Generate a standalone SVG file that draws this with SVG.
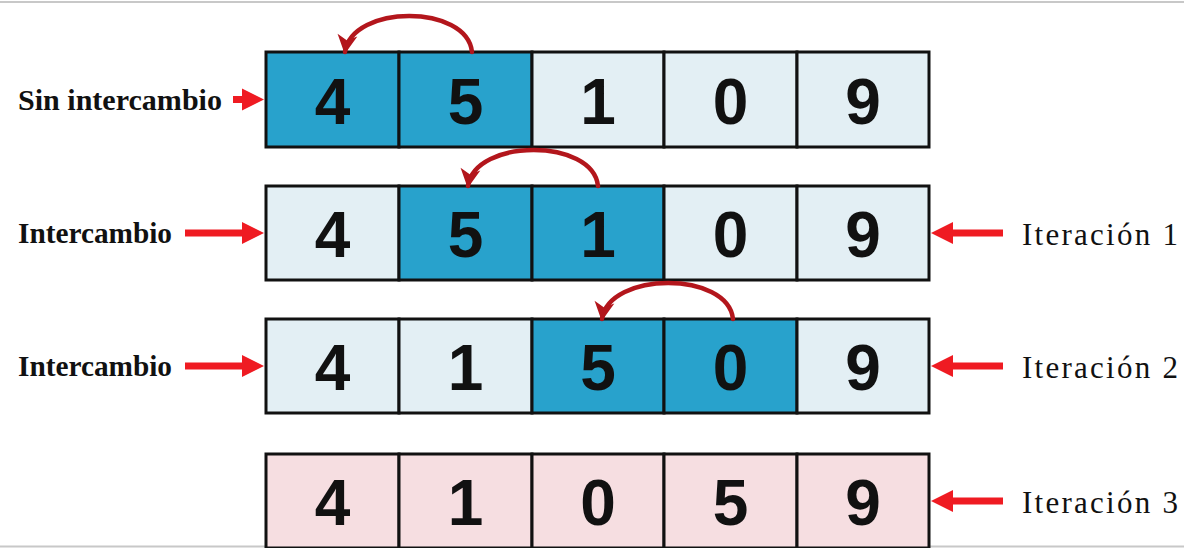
<svg xmlns="http://www.w3.org/2000/svg" width="1184" height="548" viewBox="0 0 1184 548">
  <defs>
    <style>
      .cell { stroke: #111; stroke-width: 3; }
      .blue { fill: #28a2cc; }
      .light { fill: #e3eff4; }
      .pink { fill: #f6dee1; }
      .num { font-family: "Liberation Sans", Arial, sans-serif; font-weight: bold; font-size: 64px; fill: #111; text-anchor: middle; }
      .lbl { font-family: "Liberation Serif", "Times New Roman", serif; font-weight: bold; font-size: 30px; fill: #111; }
      .it { font-family: "Liberation Serif", "Times New Roman", serif; font-size: 31px; fill: #111; }
      .red { stroke: #ef1b22; stroke-width: 7; fill: none; }
      .swap { stroke: #b3161c; stroke-width: 4.5; fill: none; stroke-linecap: round; }
    </style>
    <marker id="redHead" markerUnits="userSpaceOnUse" markerWidth="24" markerHeight="24" viewBox="0 -12 24 24" refX="0" refY="0" orient="auto">
      <path d="M0,-11 L22,0 L0,11 Z" fill="#ef1b22"/>
    </marker>
    <marker id="swapHead" markerUnits="userSpaceOnUse" markerWidth="24" markerHeight="24" viewBox="-20 -12 24 24" refX="0" refY="0" orient="auto">
      <path d="M2,0 L-17,-10 L-12,0 L-17,10 Z" fill="#b3161c"/>
    </marker>
  </defs>

  <rect x="0" y="0" width="1184" height="548" fill="#ffffff"/>
  <line x1="0" y1="2" x2="1184" y2="2" stroke="#c8c8c8" stroke-width="2"/>
  <line x1="0" y1="546.5" x2="1184" y2="546.5" stroke="#c8c8c8" stroke-width="2"/>

  <!-- Row 1 -->
  <g id="row1">
    <g id="r1c1"><rect class="cell blue" x="266" y="52" width="133" height="95"/><text class="num" x="332.5" y="123.5">4</text></g>
    <g id="r1c2"><rect class="cell blue" x="399" y="52" width="133" height="95"/><text class="num" x="465.5" y="123.5">5</text></g>
    <g id="r1c3"><rect class="cell light" x="532" y="52" width="132" height="95"/><text class="num" x="598" y="123.5">1</text></g>
    <g id="r1c4"><rect class="cell light" x="664" y="52" width="133" height="95"/><text class="num" x="730.5" y="123.5">0</text></g>
    <g id="r1c5"><rect class="cell light" x="797" y="52" width="132" height="95"/><text class="num" x="863" y="123.5">9</text></g>
  </g>

  <!-- Row 2 -->
  <g id="row2">
    <g id="r2c1"><rect class="cell light" x="266" y="186" width="133" height="94"/><text class="num" x="332.5" y="257">4</text></g>
    <g id="r2c2"><rect class="cell blue" x="399" y="186" width="133" height="94"/><text class="num" x="465.5" y="257">5</text></g>
    <g id="r2c3"><rect class="cell blue" x="532" y="186" width="132" height="94"/><text class="num" x="598" y="257">1</text></g>
    <g id="r2c4"><rect class="cell light" x="664" y="186" width="133" height="94"/><text class="num" x="730.5" y="257">0</text></g>
    <g id="r2c5"><rect class="cell light" x="797" y="186" width="132" height="94"/><text class="num" x="863" y="257">9</text></g>
  </g>

  <!-- Row 3 -->
  <g id="row3">
    <g id="r3c1"><rect class="cell light" x="266" y="319" width="133" height="94"/><text class="num" x="332.5" y="390">4</text></g>
    <g id="r3c2"><rect class="cell light" x="399" y="319" width="133" height="94"/><text class="num" x="465.5" y="390">1</text></g>
    <g id="r3c3"><rect class="cell blue" x="532" y="319" width="132" height="94"/><text class="num" x="598" y="390">5</text></g>
    <g id="r3c4"><rect class="cell blue" x="664" y="319" width="133" height="94"/><text class="num" x="730.5" y="390">0</text></g>
    <g id="r3c5"><rect class="cell light" x="797" y="319" width="132" height="94"/><text class="num" x="863" y="390">9</text></g>
  </g>

  <!-- Row 4 -->
  <g id="row4">
    <g id="r4c1"><rect class="cell pink" x="266" y="454" width="133" height="94"/><text class="num" x="332.5" y="525">4</text></g>
    <g id="r4c2"><rect class="cell pink" x="399" y="454" width="133" height="94"/><text class="num" x="465.5" y="525">1</text></g>
    <g id="r4c3"><rect class="cell pink" x="532" y="454" width="132" height="94"/><text class="num" x="598" y="525">0</text></g>
    <g id="r4c4"><rect class="cell pink" x="664" y="454" width="133" height="94"/><text class="num" x="730.5" y="525">5</text></g>
    <g id="r4c5"><rect class="cell pink" x="797" y="454" width="132" height="94"/><text class="num" x="863" y="525">9</text></g>
  </g>

  <!-- Labels -->
  <g id="label-sin"><text class="lbl" x="18" y="110" textLength="204" lengthAdjust="spacingAndGlyphs">Sin intercambio</text></g>
  <g id="label-int1"><text class="lbl" x="18" y="243" textLength="154" lengthAdjust="spacingAndGlyphs">Intercambio</text></g>
  <g id="label-int2"><text class="lbl" x="18" y="376" textLength="154" lengthAdjust="spacingAndGlyphs">Intercambio</text></g>
  <g id="label-it1"><text class="it" x="1022" y="245" textLength="156" lengthAdjust="spacing">Iteración 1</text></g>
  <g id="label-it2"><text class="it" x="1022" y="378" textLength="156" lengthAdjust="spacing">Iteración 2</text></g>
  <g id="label-it3"><text class="it" x="1022" y="513" textLength="156" lengthAdjust="spacing">Iteración 3</text></g>

  <!-- Connectors -->
  <g id="connectors">
    <line class="red" x1="233" y1="99.5" x2="242" y2="99.5" marker-end="url(#redHead)"/>
    <line class="red" x1="185" y1="233" x2="242" y2="233" marker-end="url(#redHead)"/>
    <line class="red" x1="185" y1="366" x2="242" y2="366" marker-end="url(#redHead)"/>
    <line class="red" x1="1003" y1="233" x2="953" y2="233" marker-end="url(#redHead)"/>
    <line class="red" x1="1003" y1="366" x2="953" y2="366" marker-end="url(#redHead)"/>
    <line class="red" x1="1003" y1="501" x2="953" y2="501" marker-end="url(#redHead)"/>

    <path class="swap" d="M472,52 C467,4 352,4 345,52" marker-end="url(#swapHead)"/>
    <path class="swap" d="M598,186 C593,138 475,138 468,186" marker-end="url(#swapHead)"/>
    <path class="swap" d="M733,319 C728,271 609,271 602,319" marker-end="url(#swapHead)"/>
  </g>
</svg>
